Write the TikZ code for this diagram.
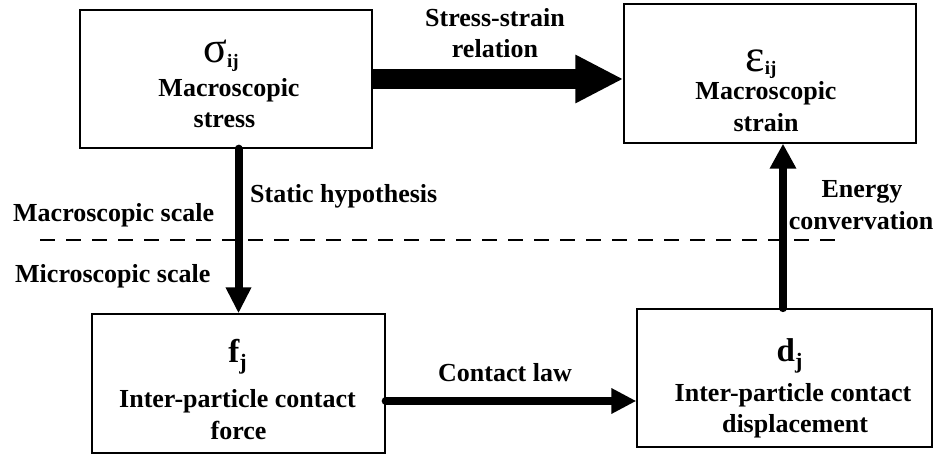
\documentclass[tikz,border=0pt]{standalone}
\usepackage{fontspec}
\setmainfont{Liberation Serif}
\usetikzlibrary{arrows.meta}

% symbol with a bold subscript: #1 size, #2 symbol, #3 drop, #4 subscript size, #5 subscript
\newcommand\symsub[5]{{\fontsize{#1}{#1}\selectfont #2}\raisebox{-#3}{\fontsize{#4}{#4}\selectfont\bfseries #5}}

\begin{document}
\begin{tikzpicture}[x=1pt,y=-1pt,
  box/.style={draw, line width=1.3pt, inner sep=0pt},
  txt/.style={font=\fontsize{26}{30}\selectfont\bfseries, inner sep=0pt, anchor=base},
  lefttxt/.style={txt, anchor=base west},
  flow/.style={line width=8pt, line cap=round, -{Triangle[length=26pt,width=24pt]}},
  bigflow/.style={line width=20pt, -{Triangle[length=48pt,width=45pt]}},
  scaleline/.style={line width=1.5pt, dash pattern=on 15pt off 11pt},
]
\path[use as bounding box, fill=white] (0,0) rectangle (938,454);

% boxes
\node[box, minimum width=292pt, minimum height=138pt] (stress) at (226,79) {};
\node[box, minimum width=292pt, minimum height=139pt] (strain) at (770,73.5) {};
\node[box, minimum width=293pt, minimum height=139pt] (force) at (238.5,383.5) {};
\node[box, minimum width=295pt, minimum height=138pt] (disp) at (784.5,378) {};

% box contents
\node[txt] (sig) at (221,63) {\symsub{44}{\mdseries σ}{5pt}{19}{ij}};
\node[txt] (stressA) at (229,97) {Macroscopic};
\node[txt] (stressB) at (224.5,128) {stress};

\node[txt] (eps) at (761,72) {\symsub{46}{\mdseries ε}{3pt}{19}{ij}};
\node[txt] (strainA) at (766,100) {Macroscopic};
\node[txt] (strainB) at (766,132) {strain};

\node[txt] (fj) at (237.5,363) {\symsub{33}{\bfseries f}{7pt}{22}{j}};
\node[txt] (forceA) at (237.5,408) {Inter-particle contact};
\node[txt] (forceB) at (238.5,440) {force};

\node[txt] (dj) at (789.5,362) {\symsub{33}{\bfseries d}{7pt}{22}{j}};
\node[txt] (dispA) at (793,402) {Inter-particle contact};
\node[txt] (dispB) at (795,433) {displacement};

% scale separation
\draw[scaleline] (40,240) -- (843,240);
\node[lefttxt] (macro) at (13,222) {Macroscopic scale};
\node[lefttxt] (micro) at (15,283) {Microscopic scale};

% connectors
\draw[bigflow] (stress.east) -- (stress.east -| strain.west);
\node[txt] (ssA) at (495,27) {Stress-strain};
\node[txt] (ssB) at (495,58) {relation};

\draw[flow] (force.north |- stress.south) -- (force.north);
\node[lefttxt] (static) at (250,203) {Static hypothesis};

\coordinate (clstart) at ([yshift=-17.5pt]force.east);
\draw[flow, -{Triangle[length=25pt,width=24pt]}] (clstart) -- (clstart -| disp.west);
\node[txt] (contact) at (505,382) {Contact law};

\draw[flow, line width=7.5pt, -{Triangle[length=25pt,width=25pt]}] ([xshift=-1.5pt]disp.north) -- ([xshift=-1.5pt]disp.north |- strain.south);
\node[txt] (enA) at (862,198) {Energy};
\node[txt] (enB) at (861,230) {convervation};
\end{tikzpicture}
\end{document}
